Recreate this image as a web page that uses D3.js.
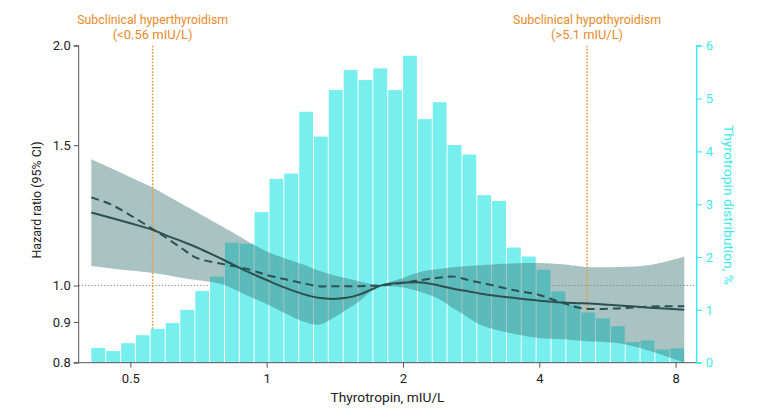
<!DOCTYPE html>
<html>
<head>
<meta charset="utf-8">
<script src="https://cdn.jsdelivr.net/npm/d3@7"></script>
<style>
  html, body { margin: 0; padding: 0; background: #fff; }
  svg { display: block; font-family: Roboto, "Noto Sans", sans-serif; }
</style>
</head>
<body>
<svg id="chart" width="780" height="418"></svg>
<script>
// ---------------- data ----------------
// histogram bin edges (TSH, mIU/L) and distribution (%)
const binEdges = [0.409, 0.441, 0.476, 0.513, 0.553, 0.597, 0.643, 0.694, 0.748, 0.807,
  0.870, 0.938, 1.012, 1.091, 1.177, 1.269, 1.368, 1.476, 1.591, 1.716,
  1.851, 1.996, 2.152, 2.321, 2.503, 2.699, 2.911, 3.139, 3.385, 3.650,
  3.937, 4.245, 4.578, 4.937, 5.324, 5.742, 6.192, 6.677, 7.201, 7.765, 8.374];
const distPct = [0.28, 0.22, 0.37, 0.52, 0.64, 0.75, 1.00, 1.36, 1.63, 2.27,
  2.25, 2.85, 3.48, 3.58, 4.75, 4.28, 5.16, 5.54, 5.35, 5.57,
  5.16, 5.81, 4.61, 4.93, 4.12, 3.94, 3.17, 3.06, 2.18, 2.01,
  1.76, 1.35, 1.10, 0.95, 0.84, 0.69, 0.39, 0.42, 0.25, 0.27];

// hazard ratio curves
const curveTSH = [0.41, 0.45, 0.5, 0.56, 0.6, 0.65, 0.7, 0.8, 0.9, 1.0, 1.1, 1.2, 1.3, 1.4, 1.5, 1.6,
  1.7, 1.8, 1.9, 2.0, 2.2, 2.4, 2.6, 2.8, 3.0, 3.5, 4.0, 4.5, 5.0, 6.0, 7.0, 8.36];
const hrSolid = [1.235, 1.217, 1.197, 1.175, 1.156, 1.136, 1.117, 1.078, 1.043, 1.016, 0.993, 0.976, 0.965, 0.962, 0.965, 0.974,
  0.988, 1.001, 1.006, 1.008, 1.009, 1.000, 0.990, 0.983, 0.976, 0.965, 0.957, 0.952, 0.950, 0.944, 0.938, 0.932];
const hrDashed = [1.290, 1.266, 1.225, 1.177, 1.148, 1.113, 1.083, 1.064, 1.050, 1.031, 1.018, 1.007, 0.998, 0.998, 0.998, 0.998,
  0.999, 1.000, 1.004, 1.008, 1.016, 1.023, 1.026, 1.015, 1.007, 0.987, 0.973, 0.951, 0.936, 0.936, 0.941, 0.942];
const ciUpper = [1.440, 1.406, 1.367, 1.327, 1.298, 1.266, 1.237, 1.185, 1.140, 1.103, 1.081, 1.063, 1.044, 1.031, 1.021, 1.012,
  1.004, 1.003, 1.013, 1.022, 1.041, 1.049, 1.055, 1.058, 1.061, 1.066, 1.067, 1.063, 1.056, 1.055, 1.061, 1.087];
const ciLower = [1.058, 1.051, 1.044, 1.037, 1.031, 1.022, 1.016, 1.003, 0.973, 0.948, 0.922, 0.902, 0.893, 0.910, 0.932, 0.955,
  0.983, 0.998, 0.997, 0.994, 0.981, 0.962, 0.934, 0.910, 0.890, 0.870, 0.859, 0.856, 0.852, 0.846, 0.828, 0.800];

// axes ticks
const xTicks = [0.5, 1, 2, 4, 8];
const xTickLabels = ["0.5", "1", "2", "4", "8"];
const yLeftTicks = [0.8, 0.9, 1.0, 1.5, 2.0];
const yLeftTickLabels = ["0.8", "0.9", "1.0", "1.5", "2.0"];
const yRightTicks = [0, 1, 2, 3, 4, 5, 6];

// thresholds
const thresholds = [0.56, 5.1];
const thresholdLabels = [["Subclinical hyperthyroidism", "(<0.56 mIU/L)"], ["Subclinical hypothyroidism", "(>5.1 mIU/L)"]];

// ---------------- layout ----------------
const svg = d3.select("#chart");
const L = 78.7, R = 696.7, T = 45.7, B = 362.7;

const x = d3.scaleLog().domain([0.3845, 8.906]).range([L, R]);
const yHR = d3.scaleLog().domain([0.8, 2.0]).range([B, T]);
const yPct = d3.scaleLinear().domain([0, 6]).range([B, T]);

const cyan = "#3eeaea";
const barColor = "#77efef";
const orange = "#ea8a2a";
const lineColor = "#2d5050";

// mask: hide reference lines behind bars
const defs = svg.append("defs");
const mask = defs.append("mask").attr("id", "barMask").attr("maskUnits", "userSpaceOnUse")
  .attr("x", 0).attr("y", 0).attr("width", 780).attr("height", 418);
mask.append("rect").attr("x", 0).attr("y", 0).attr("width", 780).attr("height", 418).attr("fill", "#fff");

const bins = distPct.map((v, i) => ({ x0: binEdges[i], x1: binEdges[i + 1], v }));

mask.selectAll("rect.m").data(bins).join("rect").attr("class", "m")
  .attr("x", d => x(d.x0)).attr("width", d => x(d.x1) - x(d.x0))
  .attr("y", d => yPct(d.v)).attr("height", d => yPct(0) - yPct(d.v))
  .attr("fill", "#000");

// bars
svg.append("g").selectAll("rect").data(bins).join("rect")
  .attr("x", d => x(d.x0) + 0.5)
  .attr("width", d => Math.max(0, x(d.x1) - x(d.x0) - 1))
  .attr("y", d => yPct(d.v))
  .attr("height", d => yPct(0) - yPct(d.v))
  .attr("fill", barColor);

// CI band
const pts = curveTSH.map((t, i) => ({ t, s: hrSolid[i], d: hrDashed[i], lo: ciLower[i], hi: ciUpper[i] }));
const area = d3.area().x(d => x(d.t)).y0(d => yHR(d.lo)).y1(d => yHR(d.hi)).curve(d3.curveCatmullRom.alpha(0.5));
svg.append("path").datum(pts).attr("d", area).attr("fill", "#377474").attr("fill-opacity", 0.43);

// reference lines (masked behind bars)
const refG = svg.append("g").attr("mask", "url(#barMask)");
refG.append("line").attr("x1", L).attr("x2", R).attr("y1", yHR(1)).attr("y2", yHR(1))
  .attr("stroke", "#8a8a8a").attr("stroke-width", 1.2).attr("stroke-dasharray", "1.2,2");
refG.selectAll("line.th").data(thresholds).join("line").attr("class", "th")
  .attr("x1", d => x(d)).attr("x2", d => x(d)).attr("y1", T).attr("y2", B)
  .attr("stroke", "#f29a3a").attr("stroke-width", 1.6).attr("stroke-dasharray", "1.6,1.6");

// HR lines
const lineS = d3.line().x(d => x(d.t)).y(d => yHR(d.s)).curve(d3.curveCatmullRom.alpha(0.5));
const lineD = d3.line().x(d => x(d.t)).y(d => yHR(d.d)).curve(d3.curveCatmullRom.alpha(0.5));
svg.append("path").datum(pts).attr("d", lineD).attr("fill", "none").attr("stroke", lineColor)
  .attr("stroke-width", 2).attr("stroke-dasharray", "8,5");
svg.append("path").datum(pts).attr("d", lineS).attr("fill", "none").attr("stroke", lineColor)
  .attr("stroke-width", 2);

// ---------------- axes ----------------
const axisColor = "#555";
const tickText = "#222";

// left axis
const gL = svg.append("g").attr("transform", `translate(${L},0)`)
  .call(d3.axisLeft(yHR).tickValues(yLeftTicks).tickFormat((d, i) => yLeftTickLabels[i]).tickSize(5).tickPadding(3));
gL.select(".domain").attr("stroke", axisColor).attr("d", `M-5,${T}H0V${B}H-5`);
gL.selectAll(".tick line").attr("stroke", axisColor);
gL.selectAll(".tick text").attr("fill", tickText).style("font-size", "13px").style("font-family", "Roboto, sans-serif");

// bottom axis
const gB = svg.append("g").attr("transform", `translate(0,${B})`)
  .call(d3.axisBottom(x).tickValues(xTicks).tickFormat((d, i) => xTickLabels[i]).tickSize(5).tickPadding(6));
gB.select(".domain").attr("stroke", axisColor).attr("d", `M${L},0H${R}`);
gB.selectAll(".tick line").attr("stroke", axisColor);
gB.selectAll(".tick text").attr("fill", tickText).style("font-size", "13px").style("font-family", "Roboto, sans-serif");

// right axis
const gR = svg.append("g").attr("transform", `translate(${R},0)`)
  .call(d3.axisRight(yPct).tickValues(yRightTicks).tickFormat(d3.format("d")).tickSize(5).tickPadding(4));
gR.select(".domain").attr("stroke", cyan).attr("stroke-width", 1.5).attr("d", `M5,${T}H0V${B}H5`);
gR.selectAll(".tick line").attr("stroke", cyan).attr("stroke-width", 1.2);
gR.selectAll(".tick text").attr("fill", cyan).style("font-size", "13px").style("font-family", "Roboto, sans-serif");

// axis titles
svg.append("text").attr("transform", "translate(41,200) rotate(-90)")
  .attr("text-anchor", "middle").attr("fill", "#222").style("font-size", "13px")
  .attr("textLength", 117).attr("lengthAdjust", "spacingAndGlyphs")
  .text("Hazard ratio (95% CI)");
svg.append("text").attr("x", 387.5).attr("y", 402)
  .attr("text-anchor", "middle").attr("fill", "#222").style("font-size", "13px")
  .attr("textLength", 114).attr("lengthAdjust", "spacingAndGlyphs")
  .text("Thyrotropin, mIU/L");
svg.append("text").attr("transform", "translate(724,205) rotate(90)")
  .attr("text-anchor", "middle").attr("fill", cyan).style("font-size", "13px")
  .attr("textLength", 160).attr("lengthAdjust", "spacingAndGlyphs")
  .text("Thyrotropin distribution, %");

// threshold annotations
const annWidths = [[151, 80], [148, 72]];
thresholds.forEach((t, i) => {
  const cx = x(t);
  thresholdLabels[i].forEach((s, j) => {
    svg.append("text").attr("x", cx).attr("y", j === 0 ? 24 : 38.5)
      .attr("text-anchor", "middle").attr("fill", orange).style("font-size", "12.5px")
      .attr("textLength", annWidths[i][j]).attr("lengthAdjust", "spacingAndGlyphs")
      .text(s);
  });
});
</script>
</body>
</html>
